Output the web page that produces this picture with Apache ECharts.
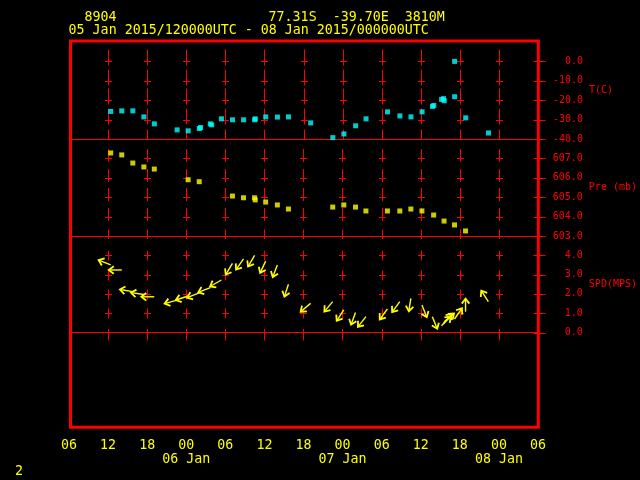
<!DOCTYPE html>
<html><head><meta charset="utf-8">
<script src="https://cdn.jsdelivr.net/npm/echarts@6/dist/echarts.min.js"></script>
<style>html,body{margin:0;padding:0;background:#000;}#c{width:640px;height:480px;}</style>
</head><body><div id="c"></div>
<script>
// ---- texts ----
const stationId = '8904';
const stationLoc = '77.31S  -39.70E  3810M';
const timeRange = '05 Jan 2015/120000UTC - 08 Jan 2015/000000UTC';
const pageNumber = '2';

// ---- x axis: hours since 05 Jan 2015 06 UTC ----
const hourTicks = [0, 6, 12, 18, 24, 30, 36, 42, 48, 54, 60, 66, 72];
const hourLabels = ['06', '12', '18', '00', '06', '12', '18', '00', '06', '12', '18', '00', '06'];
const dayLabels = ['', '', '', '06 Jan', '', '', '', '07 Jan', '', '', '', '08 Jan', ''];

// ---- y axes ----
const tTicks = [-40, -30, -20, -10, 0];
const pTicks = [603, 604, 605, 606, 607];
const sTicks = [0, 1, 2, 3, 4];
const tName = 'T(C)', pName = 'Pre (mb)', sName = 'SPD(MPS)';

// ---- observations ----
const obsHours = [6.4, 8.1, 9.8, 11.5, 13.1, 16.6, 18.3, 20.0, 20.2, 21.7, 21.9, 23.4, 25.1, 26.8, 28.5, 28.6, 30.2, 32.0, 33.7, 37.1,
  40.5, 42.2, 44.0, 45.6, 48.9, 50.8, 52.5, 54.2, 55.8, 56.0, 57.2, 57.5, 57.6, 59.2, 59.2, 60.9, 64.4];
const tempC = [-25.8, -25.5, -25.5, -28.6, -32.2, -35.3, -35.8, -34.6, -34.1, -32.2, -32.7, -29.6, -30.1, -30.1, -30.1, -29.6, -28.6, -28.7, -28.6, -31.7,
  -39.3, -37.4, -33.2, -29.6, -26.0, -28.1, -28.6, -26.0, -23.2, -22.7, -19.6, -19.2, -20.3, 0.0, -18.2, -29.1, -36.9];
const presMb = [607.28, 607.18, 606.76, 606.56, 606.45, null, 605.90, 605.80, null, null, null, null, 605.06, 604.97, 604.97, 604.86, 604.75, 604.60, 604.39, null,
  604.49, 604.60, 604.49, 604.29, 604.29, 604.29, 604.39, 604.29, null, 604.08, null, null, 603.77, 603.57, null, 603.26, null];
const windSpd = [3.50, 3.24, 2.12, 1.97, 1.85, 1.68, 1.89, 2.05, null, 2.33, null, 2.72, 3.58, 3.81, 4.00, null, 3.70, 3.50, 2.50, 1.51,
  1.60, 1.17, 1.04, 0.82, 1.22, 1.60, 1.77, 1.42, 0.82, null, 0.35, 0.45, 0.55, 0.70, null, 1.08, 1.60];
const windDir = [112, 90, 99, 98, 90, 74, 72, 69, null, 68, null, 60, 31, 35, 30, null, 25, 21, 18, 50,
  40, 33, 20, 38, 36, 36, 9, 338, 338, null, 225, 220, 230, 215, null, 180, 147];

const RED = '#ff0000', YEL = '#ffff00', CYAN = '#00ffff';
const MONO = "'DejaVu Sans Mono', 'Liberation Mono', monospace";

function pairs(ys) {
  const out = [];
  obsHours.forEach((h, i) => { if (ys[i] !== null) out.push([h, ys[i]]); });
  return out;
}
const windData = [];
obsHours.forEach((h, i) => { if (windSpd[i] !== null) windData.push([h, windSpd[i], windDir[i]]); });

const innerHours = hourTicks.slice(1, -1);
const px = v => Math.round(v) + 0.5;

function crossSeries(idx, ticks, up, down, bUp, bDown) {
  const data = [];
  innerHours.forEach(h => ticks.forEach((v, k) => data.push([h, v, k === 0 ? 1 : 0])));
  ticks.forEach(v => data.push([hourTicks[hourTicks.length - 1], v, 2]));
  return {
    type: 'custom', xAxisIndex: idx, yAxisIndex: idx, clip: false, silent: true, z: 1, data,
    renderItem(params, api) {
      const p = api.coord([api.value(0), api.value(1)]);
      const kind = api.value(2);
      const x = px(p[0]), y = px(p[1]);
      const st = { stroke: RED, lineWidth: 1 };
      const ch = [];
      if (kind === 2) {
        ch.push({ type: 'line', shape: { x1: x - 5, y1: y, x2: x + 7, y2: y }, style: st });
      } else if (kind === 1) {
        ch.push({ type: 'line', shape: { x1: x, y1: y - bUp, x2: x, y2: y + bDown }, style: st });
      } else {
        ch.push({ type: 'line', shape: { x1: x, y1: y - up, x2: x, y2: y + down }, style: st });
        ch.push({ type: 'line', shape: { x1: x - 3.5, y1: y, x2: x + 3.5, y2: y }, style: st });
      }
      return { type: 'group', children: ch };
    }
  };
}

function xAxis(idx, bottom) {
  return {
    type: 'value', gridIndex: idx, min: 0, max: 72, interval: 6, position: 'bottom',
    axisLine: { show: !bottom, onZero: false, lineStyle: { color: RED, width: 1 } },
    axisTick: { show: false }, splitLine: { show: false },
    axisLabel: bottom ? {
      show: true, color: YEL, fontFamily: MONO, fontSize: 13.3, lineHeight: 14.6, margin: 11,
      showMinLabel: true, showMaxLabel: true,
      formatter: v => { const i = hourTicks.indexOf(v); return dayLabels[i] ? hourLabels[i] + '\n' + dayLabels[i] : hourLabels[i]; }
    } : { show: false }
  };
}
function yAxis(idx, ticks, name, interval) {
  const min = ticks[0], max = ticks[ticks.length - 1] + interval;
  return {
    type: 'value', gridIndex: idx, position: 'right', min, max, interval,
    axisLine: { show: false, onZero: false }, axisTick: { show: false }, splitLine: { show: false },
    axisLabel: { show: true, color: RED, fontFamily: MONO, fontSize: 10, align: 'right', margin: 45,
      formatter: v => ticks.indexOf(v) >= 0 ? v.toFixed(1) : '' },
    name, nameLocation: 'middle', nameGap: 51, nameRotate: 0,
    nameTextStyle: { color: RED, fontFamily: MONO, fontSize: 10, align: 'left', verticalAlign: 'middle' }
  };
}

const chart = echarts.init(document.getElementById('c'), null, { renderer: 'canvas' });
chart.setOption({
  backgroundColor: '#000',
  animation: false,
  grid: [
    { left: 69, width: 469, top: 42, height: 97 },
    { left: 69, width: 469, top: 139, height: 97 },
    { left: 69, width: 469, top: 236, height: 96.5 },
    { left: 69, width: 469, top: 332.5, height: 94.5 }
  ],
  xAxis: [xAxis(0, false), xAxis(1, false), xAxis(2, false), xAxis(3, true)],
  yAxis: [yAxis(0, tTicks, tName, 10), yAxis(1, pTicks, pName, 1), yAxis(2, sTicks, sName, 1),
    { type: 'value', gridIndex: 3, min: 0, max: 1, show: false }],
  graphic: [
    { type: 'rect', shape: { x: 70.5, y: 41, width: 467.8, height: 386.3 }, style: { stroke: RED, lineWidth: 3, fill: null }, z: 100 },
    { type: 'text', x: 84.5, y: 18, style: { text: stationId, fill: YEL, font: '13.3px ' + MONO, verticalAlign: 'middle', textVerticalAlign: 'middle' } },
    { type: 'text', x: 268.6, y: 18, style: { text: stationLoc, fill: YEL, font: '13.3px ' + MONO, verticalAlign: 'middle', textVerticalAlign: 'middle' } },
    { type: 'text', x: 68.6, y: 31, style: { text: timeRange, fill: YEL, font: '13.3px ' + MONO, verticalAlign: 'middle', textVerticalAlign: 'middle' } },
    { type: 'text', x: 15, y: 472, style: { text: pageNumber, fill: YEL, font: '13.3px ' + MONO, verticalAlign: 'middle', textVerticalAlign: 'middle' } }
  ],
  series: [
    crossSeries(0, tTicks, 12, 4, 10, 0),
    crossSeries(1, pTicks, 9.5, 3.5, 7, 2.5),
    crossSeries(2, sTicks, 5, 5, 4.5, 7),
    { type: 'scatter', xAxisIndex: 0, yAxisIndex: 0, data: pairs(tempC), symbol: 'rect', symbolSize: 5, itemStyle: { color: CYAN }, z: 5 },
    { type: 'scatter', xAxisIndex: 1, yAxisIndex: 1, data: pairs(presMb), symbol: 'rect', symbolSize: 5, itemStyle: { color: YEL }, z: 5 },
    {
      type: 'custom', xAxisIndex: 2, yAxisIndex: 2, clip: false, z: 5, data: windData,
      renderItem(params, api) {
        const p = api.coord([api.value(0), api.value(1)]);
        const b = (api.value(2) + 180) * Math.PI / 180;
        const L = 13, hl = 5, hw = 3.8;
        const ux = Math.sin(b), uy = -Math.cos(b);
        const hx = p[0] + L * ux, hy = p[1] + L * uy;
        const bx = hx - ux * hl, by = hy - uy * hl;
        const nx = -uy, ny = ux;
        return {
          type: 'group', children: [
            { type: 'line', shape: { x1: p[0], y1: p[1], x2: hx, y2: hy }, style: { stroke: YEL, lineWidth: 1.4 } },
            { type: 'polyline', shape: { points: [[bx + nx * hw, by + ny * hw], [hx, hy], [bx - nx * hw, by - ny * hw]] }, style: { stroke: YEL, lineWidth: 1.8, fill: null } }
          ]
        };
      }
    }
  ]
});
</script>
</body></html>
